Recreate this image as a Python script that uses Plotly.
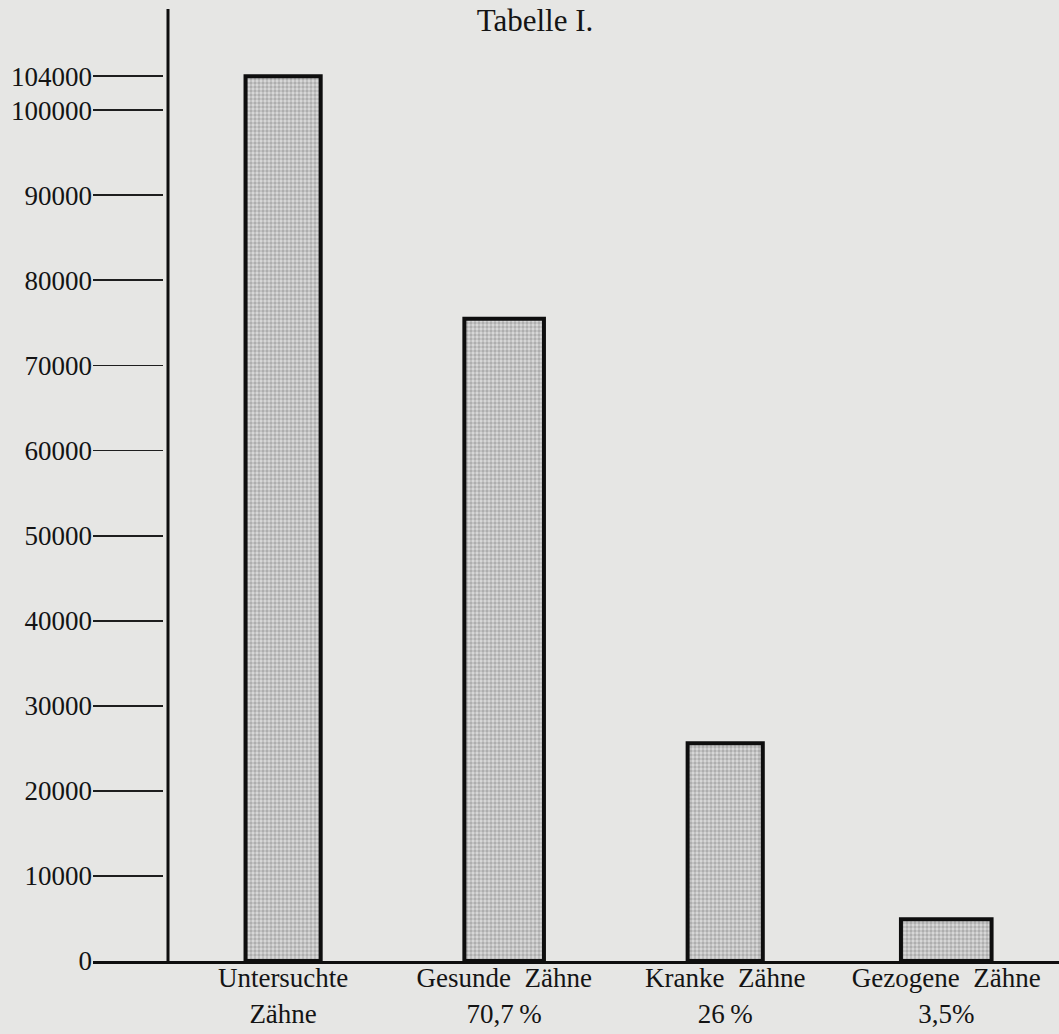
import plotly.graph_objects as go

categories = ["Untersuchte<br>Zähne", "Gesunde\u00a0 Zähne<br>70,7\u2009%", "Kranke\u00a0 Zähne<br>26\u2009%", "Gezogene\u00a0 Zähne<br>3,5%"]
values = [104000, 75500, 25600, 4900]
bar_widths = [0.34, 0.36, 0.34, 0.41]
ytick_vals = [0, 10000, 20000, 30000, 40000, 50000, 60000, 70000, 80000, 90000, 100000, 104000]
ytick_text = [str(v) for v in ytick_vals]

paper = "#e6e6e4"
ink = "#141414"
font_family = "Liberation Serif"

fig = go.Figure()
fig.add_trace(go.Bar(
    x=list(range(len(categories))),
    y=values,
    width=bar_widths,
    marker=dict(
        color="#c4c4c4",
        line=dict(color="#0e0e0e", width=4),
        pattern=dict(shape=".", fgcolor="#828282", bgcolor="#dadada", size=4, solidity=0.55),
    ),
    hoverinfo="skip",
))

fig.update_layout(
    width=1059, height=1034,
    paper_bgcolor=paper, plot_bgcolor=paper,
    margin=dict(l=93, r=0, t=9, b=73, autoexpand=False),
    showlegend=False,
    font=dict(family=font_family, color=ink),
    title=dict(text="Tabelle I.", x=535 / 1059, xref="container", xanchor="center",
               y=1 - 20 / 1034, yref="container", yanchor="middle",
               font=dict(size=31, family=font_family, color=ink)),
    xaxis=dict(
        range=[-0.86, 3.51],
        tickmode="array", tickvals=list(range(len(categories))), ticktext=categories,
        showgrid=False, zeroline=False, automargin=False,
        showline=True, linecolor="#0e0e0e", linewidth=3,
        ticks="", ticklabelstandoff=-9,
        tickfont=dict(size=27, family=font_family, color=ink),
        fixedrange=True,
    ),
    yaxis=dict(
        range=[0, 111900],
        tickmode="array", tickvals=ytick_vals, ticktext=ytick_text,
        showgrid=False, zeroline=False, showline=False, automargin=False,
        ticks="inside", ticklen=70, tickwidth=1.8, tickcolor="#1e1e1e",
        tickfont=dict(size=27, family=font_family, color=ink),
        fixedrange=True,
    ),
    shapes=[dict(type="line", xref="paper", yref="paper",
                 x0=(168 - 93) / 966, x1=(168 - 93) / 966, y0=0, y1=1,
                 line=dict(color="#0e0e0e", width=3))],
)

fig.write_html(
    "out.html",
    config={"displayModeBar": False, "staticPlot": True},
    post_script="document.body.style.margin='0';document.body.style.background='#e6e6e4';",
)
